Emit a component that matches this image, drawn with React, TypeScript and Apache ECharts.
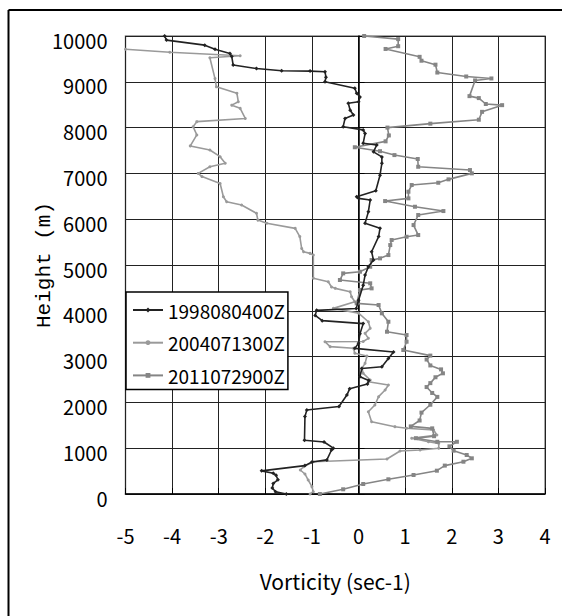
import React, { useEffect, useRef } from "react";
import * as echarts from "echarts";

const xTicks = [-5, -4, -3, -2, -1, 0, 1, 2, 3, 4];
const seriesNames = ["1998080400Z", "2004071300Z", "2011072900Z"];

// [vorticity, height]
const s1998: [number, number][] = [
  [-1.55, 0], [-1.78, 50], [-1.85, 130], [-1.83, 230], [-1.73, 310], [-1.77, 410], [-1.83, 455], [-2.08, 505],
  [-1.15, 620], [-1.0, 700], [-0.68, 745], [-0.58, 960], [-0.54, 1000], [-0.74, 1135], [-1.16, 1175],
  [-1.15, 1690], [-1.11, 1835], [-0.42, 1910], [-0.25, 2160], [-0.19, 2300], [0.19, 2400], [0.22, 2480],
  [0.03, 2560], [0.07, 2740], [0.5, 2780], [0.64, 2960], [0.75, 3100], [-0.08, 3180], [0.0, 3290],
  [0.03, 3500], [0.1, 3720], [-0.78, 3785], [-0.93, 3900], [-0.9, 4010], [-0.05, 4050], [0.0, 4230],
  [0.1, 4560], [0.14, 4780], [0.21, 4960], [0.32, 5110], [0.28, 5290], [0.43, 5620], [0.46, 5800],
  [0.14, 5910], [0.21, 6160], [0.25, 6420], [0.0, 6455], [-0.04, 6490], [0.37, 6620], [0.46, 6960],
  [0.5, 7220], [0.5, 7360], [0.32, 7470], [0.39, 7620], [0.1, 7660], [0.14, 7870], [0.1, 7950],
  [-0.33, 8020], [-0.29, 8200], [-0.11, 8275], [-0.18, 8380], [-0.22, 8530], [0.0, 8565], [0.03, 8670],
  [-0.04, 8750], [-0.08, 8860], [-0.72, 9000], [-0.7, 9100], [-0.72, 9220], [-1.04, 9234], [-1.65, 9241],
  [-2.19, 9290], [-2.69, 9365], [-2.72, 9550], [-2.76, 9620], [-3.08, 9710], [-3.3, 9800], [-4.12, 9910],
  [-4.16, 10000],
];

const s2004: [number, number][] = [
  [-1.04, 0], [-0.97, 50], [-1.0, 160], [-1.08, 305], [-1.15, 437], [-1.25, 524], [-1.18, 596], [-0.97, 705],
  [0.61, 764], [0.89, 940], [1.32, 960], [1.72, 1000], [1.72, 1106], [1.5, 1142], [1.14, 1216], [1.68, 1288],
  [1.61, 1397], [1.03, 1434], [0.78, 1470], [0.28, 1579], [0.21, 1797], [0.35, 1943], [0.43, 2125],
  [0.57, 2270], [0.64, 2380], [0.21, 2452], [0.25, 2489], [0.1, 2635], [0.07, 2744], [0.14, 2853],
  [0.18, 3013], [-0.08, 3072], [-0.11, 3181], [-0.61, 3217], [-0.72, 3325], [0.1, 3330], [0.21, 3399],
  [0.14, 3508], [0.25, 3617], [0.21, 3761], [0.0, 3950], [-0.54, 4053], [-0.08, 4198], [-0.15, 4308],
  [-0.18, 4417], [-0.5, 4490], [-0.58, 4520], [-0.65, 4635], [-0.97, 4710], [-0.97, 5217], [-1.04, 5254],
  [-1.18, 5290], [-1.22, 5360], [-1.26, 5620], [-1.36, 5800], [-1.97, 5910], [-2.16, 5980], [-2.19, 6130],
  [-2.51, 6310], [-2.83, 6380], [-2.9, 6490], [-2.97, 6780], [-3.36, 6930], [-3.44, 7000], [-3.19, 7145],
  [-2.86, 7220], [-2.97, 7365], [-3.19, 7510], [-3.61, 7600], [-3.47, 7840], [-3.55, 8020], [-3.47, 8130],
  [-2.43, 8200], [-2.54, 8420], [-2.72, 8490], [-2.58, 8565], [-2.61, 8750], [-3.05, 8890], [-3.08, 9070],
  [-3.19, 9525], [-2.54, 9570], [-4.05, 9645], [-5.0, 9710],
];

const s2011: [number, number][] = [
  [-0.83, 0], [-0.33, 103], [0.1, 218], [0.64, 321], [1.18, 415], [1.68, 509], [1.85, 620], [2.25, 705],
  [2.43, 779], [2.32, 851], [2.04, 946], [1.95, 1040], [2.11, 1140], [1.69, 1140], [1.23, 1219],
  [1.62, 1262], [1.58, 1433], [1.12, 1476], [1.31, 1605], [1.35, 1777], [1.54, 1949], [1.69, 2120],
  [1.58, 2206], [1.46, 2335], [1.54, 2421], [1.65, 2549], [1.81, 2635], [1.77, 2721], [1.54, 2807],
  [1.46, 2936], [1.54, 3022], [0.96, 3144], [1.03, 3325], [1.03, 3471], [0.61, 3543], [0.64, 3761],
  [0.5, 3945], [0.43, 4126], [-0.04, 4163], [0.03, 4453], [0.28, 4490], [0.25, 4600], [-0.4, 4672],
  [-0.33, 4817], [0.03, 4853], [0.25, 4962], [0.28, 5108], [0.46, 5145], [0.64, 5217], [0.68, 5435],
  [0.71, 5545], [1.03, 5617], [1.28, 5654], [1.18, 5872], [1.28, 6091], [1.82, 6178], [1.21, 6272],
  [0.57, 6396], [1.07, 6455], [1.07, 6600], [1.14, 6746], [1.71, 6796], [1.93, 6870], [2.43, 7001],
  [2.39, 7073], [1.28, 7145], [1.27, 7314], [0.77, 7400], [0.46, 7485], [-0.08, 7571], [0.58, 7700],
  [0.65, 7829], [0.62, 8000], [1.54, 8086], [2.58, 8172], [2.65, 8344], [3.08, 8490], [2.73, 8515],
  [2.58, 8644], [2.38, 8687], [2.5, 9030], [2.85, 9073], [2.31, 9116], [1.69, 9202], [1.65, 9374],
  [1.35, 9460], [1.31, 9545], [0.58, 9717], [0.85, 9777], [0.85, 9932], [0.12, 10000],
];

const FONT = "'Noto Sans CJK JP', sans-serif";

export default function App() {
  const ref = useRef<HTMLDivElement>(null);
  useEffect(() => {
    if (!ref.current) return;
    const chart = echarts.init(ref.current, undefined, { renderer: "svg" });
    chart.setOption({
      animation: false,
      backgroundColor: "#fff",
      graphic: [
        { type: "line", shape: { x1: 8.5, y1: 10, x2: 562, y2: 10 }, style: { stroke: "#000", lineWidth: 2 } },
        { type: "line", shape: { x1: 8.5, y1: 10, x2: 8.5, y2: 616 }, style: { stroke: "#000", lineWidth: 2 } },
      ],
      grid: { left: 125.5, right: 17, top: 36, bottom: 122, show: true, borderColor: "#8a8a8a", borderWidth: 1.5 },
      legend: {
        left: 126,
        top: 292,
        orient: "vertical",
        data: seriesNames,
        backgroundColor: "#fff",
        borderColor: "#000",
        borderWidth: 1.5,
        padding: [5, 3, 1, 6],
        itemWidth: 30,
        itemHeight: 6,
        itemGap: 6.7,
        textStyle: { fontFamily: FONT, fontSize: 19, color: "#000", lineHeight: 26 },
      },
      xAxis: {
        type: "value",
        min: xTicks[0],
        max: xTicks[xTicks.length - 1],
        interval: 1,
        axisLine: { show: true, lineStyle: { color: "#000", width: 1.5 } },
        axisTick: { show: true, inside: true, length: 6, lineStyle: { color: "#000" } },
        splitLine: { show: true, lineStyle: { color: "#222", width: 1 } },
        axisLabel: { fontFamily: FONT, fontSize: 20, color: "#000", margin: 31 },
        name: "Vorticity (sec-1)",
        nameLocation: "middle",
        nameGap: 76,
        nameMoveOverlap: false,
        nameTextStyle: { fontFamily: FONT, fontSize: 21, color: "#000" },
      },
      yAxis: {
        type: "value",
        min: 0,
        max: 10000,
        interval: 1000,
        axisLine: { show: true, lineStyle: { color: "#000", width: 1.5 } },
        axisTick: { show: true, inside: true, length: 6, lineStyle: { color: "#000" } },
        splitLine: { show: true, lineStyle: { color: "#222", width: 1 } },
        axisLabel: {
          fontFamily: FONT,
          fontSize: 20,
          color: "#000",
          margin: 18,
          verticalAlign: "top",
          lineHeight: 8,
          formatter: (v: number) => String(v),
        },
        name: "Height (m)",
        nameLocation: "middle",
        nameGap: 71,
        nameRotate: 90,
        nameMoveOverlap: false,
        nameTextStyle: { fontFamily: "'Liberation Mono', 'DejaVu Sans Mono', monospace", fontSize: 21, color: "#000" },
      },
      series: [
        {
          name: seriesNames[1],
          type: "line",
          data: s2004,
          z: 2,
          symbol: "circle",
          symbolSize: 3,
          color: "#9a9a9a",
          lineStyle: { color: "#9a9a9a", width: 1.6 },
          itemStyle: { color: "#9a9a9a" },
        },
        {
          name: seriesNames[2],
          type: "line",
          data: s2011,
          z: 3,
          symbol: "rect",
          symbolSize: 4,
          color: "#858585",
          lineStyle: { color: "#858585", width: 1.6 },
          itemStyle: { color: "#858585" },
        },
        {
          name: seriesNames[0],
          type: "line",
          data: s1998,
          z: 4,
          symbol: "diamond",
          symbolSize: 4,
          color: "#222",
          lineStyle: { color: "#222", width: 1.6 },
          itemStyle: { color: "#222" },
        },
      ],
    });
    return () => chart.dispose();
  }, []);
  return (
    <div
      ref={ref}
      style={{ position: "fixed", left: 0, top: 0, width: 562, height: 616, background: "#fff" }}
    />
  );
}
